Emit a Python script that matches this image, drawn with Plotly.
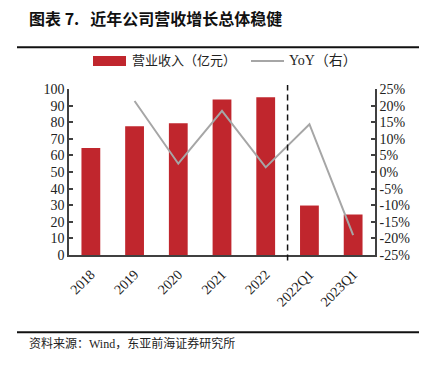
import plotly.graph_objects as go

categories = ["2018", "2019", "2020", "2021", "2022", "2022Q1", "2023Q1"]
revenue = [64.4, 77.6, 79.4, 93.6, 95.0, 29.8, 24.4]
yoy = [None, 21.4, 2.5, 18.4, 1.4, 14.4, -19.0]
left_ticks = list(range(0, 101, 10))
right_ticks = list(range(-25, 26, 5))
series_names = ["营业收入（亿元）", "YoY（右）"]

title_text = "图表 7.   近年公司营收增长总体稳健"
source_text = "资料来源：Wind，东亚前海证券研究所"

W, H = 429, 366
L, R, T, B = 69, 54, 89, 110.5
pw = W - L - R
ph = H - T - B

def px_x(x):
    return (x - L) / pw

def px_y(y):
    return (H - B - y) / ph

serif = "Liberation Serif, Times New Roman, serif"
mixed = "Liberation Serif, Noto Sans CJK SC, serif"
cjk = "Noto Sans CJK SC, Noto Sans, sans-serif"

bar_color = "#C0262D"
line_color = "#A6A6A6"

fig = go.Figure()
fig.add_trace(go.Bar(
    x=categories, y=revenue, name=series_names[0],
    marker=dict(color=bar_color, line=dict(width=0)),
    width=0.43, showlegend=False,
))
fig.add_trace(go.Scatter(
    x=categories, y=yoy, name=series_names[1], yaxis="y2",
    mode="lines", line=dict(color=line_color, width=2),
    connectgaps=False, showlegend=False,
))

axis_color = "#404040"
fig.update_layout(
    width=W, height=H,
    margin=dict(l=L, r=R, t=T, b=B),
    paper_bgcolor="white", plot_bgcolor="white",
    xaxis=dict(
        type="category", tickangle=-45, showline=True, linecolor=axis_color, linewidth=1.5,
        ticks="", tickfont=dict(family=serif, size=14, color="#222"), ticklabelstandoff=4,
        showgrid=False, zeroline=False,
    ),
    yaxis=dict(
        range=[0, 100], tickvals=left_ticks, showline=True, linecolor=axis_color, linewidth=1.5,
        ticks="inside", ticklen=4, tickcolor=axis_color, tickwidth=1.5,
        tickfont=dict(family=serif, size=14, color="#222"),
        showgrid=False, zeroline=False,
    ),
    yaxis2=dict(
        range=[-25, 25], tickvals=right_ticks, ticktext=[f"{v}%" for v in right_ticks],
        overlaying="y", side="right", showline=True, linecolor=axis_color, linewidth=1.5,
        ticks="inside", ticklen=4, tickcolor=axis_color, tickwidth=1.5,
        tickfont=dict(family=serif, size=14, color="#222"),
        showgrid=False, zeroline=False,
    ),
)

shapes = [
    dict(type="line", xref="x", yref="paper", x0=4.5, x1=4.5, y0=px_y(261), y1=px_y(85),
         line=dict(color="#111", width=1.5, dash="6px,4px")),
    dict(type="line", xref="paper", yref="paper", x0=px_x(17), x1=px_x(419), y0=px_y(47), y1=px_y(47),
         line=dict(color="#111", width=2)),
    dict(type="line", xref="paper", yref="paper", x0=px_x(17), x1=px_x(419), y0=px_y(333), y1=px_y(333),
         line=dict(color="#111", width=2)),
    # legend glyphs
    dict(type="rect", xref="paper", yref="paper", x0=px_x(93), x1=px_x(126), y0=px_y(66), y1=px_y(56),
         fillcolor=bar_color, line=dict(width=0)),
    dict(type="line", xref="paper", yref="paper", x0=px_x(251), x1=px_x(284), y0=px_y(61), y1=px_y(61),
         line=dict(color=line_color, width=2)),
]
fig.update_layout(shapes=shapes)

fig.add_annotation(text=series_names[0], xref="paper", yref="paper",
                   x=px_x(130), y=px_y(60), xanchor="left", yanchor="middle", showarrow=False,
                   font=dict(family=mixed, size=13, color="#222"))
fig.add_annotation(text=series_names[1], xref="paper", yref="paper",
                   x=px_x(287), y=px_y(60), xanchor="left", yanchor="middle", showarrow=False,
                   font=dict(family=mixed, size=14, color="#222"))
fig.add_annotation(text="<b>" + title_text + "</b>", xref="paper", yref="paper",
                   x=px_x(27), y=px_y(18), xanchor="left", yanchor="middle", showarrow=False,
                   font=dict(family=cjk, size=16, color="#111"))
fig.add_annotation(text=source_text, xref="paper", yref="paper",
                   x=px_x(27), y=px_y(344), xanchor="left", yanchor="middle", showarrow=False,
                   font=dict(family=mixed, size=12, color="#222"))

fig.write_html("out.html", config={"displayModeBar": False},
               post_script="document.body.style.margin='0px';document.body.style.overflow='hidden';")
